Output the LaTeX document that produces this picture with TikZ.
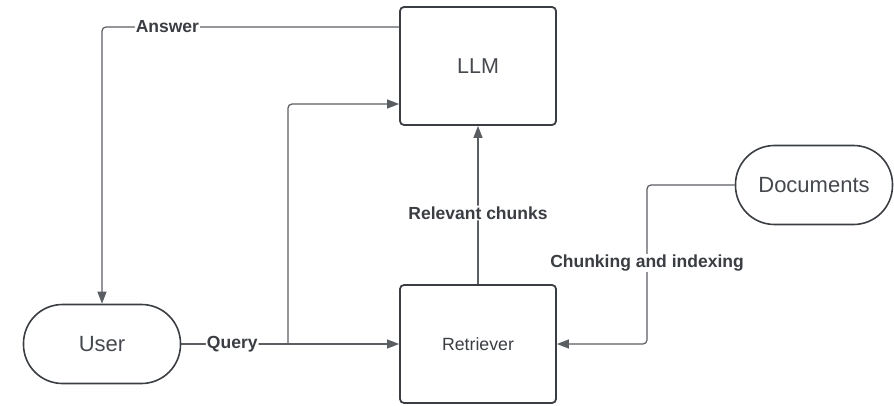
\documentclass[tikz,border=0pt]{standalone}
\usepackage{fontspec}
\setmainfont{Liberation Sans}
\usetikzlibrary{arrows.meta}
\definecolor{ink}{HTML}{3A3D42}
\definecolor{label}{HTML}{45484D}
\definecolor{wire}{HTML}{5A5D62}
\begin{document}
\begin{tikzpicture}[x=1pt,y=-1pt,
  box/.style={draw=ink,line width=1.8pt,rounded corners=4pt,minimum width=156pt,minimum height=118pt,inner sep=0pt,text=label},
  pill/.style={draw=ink,line width=1.6pt,rounded corners=39pt,minimum width=157pt,minimum height=79pt,inner sep=0pt,text=label,font=\fontsize{22}{26}\selectfont},
  wirestyle/.style={draw=wire,line width=1.2pt,rounded corners=4pt,-{Triangle[length=12pt,width=9pt]}},
  tag/.style={fill=white,inner sep=1pt,text=ink,font=\bfseries\fontsize{17.5}{20}\selectfont}]
\useasboundingbox (0,0) rectangle (894,406);

% components
\node[box,font=\fontsize{21.5}{26}\selectfont] (llm) at (478,66) {LLM};
\node[box,font=\fontsize{17.7}{21}\selectfont,text=ink] (ret) at (478,344) {Retriever};
\node[pill] (user) at (102,344) {User};
\node[pill] (docs) at (814,185) {Documents};

% branch point of the query wire
\coordinate (qsplit) at (288,344);

% answer back to the user
\draw[wirestyle] (llm.west |- 0,27) -| (user.north)
  node[tag,pos=0.39] {Answer};

% query to retriever and LLM
\draw[wirestyle] (user.east) -- (ret.west)
  node[tag,pos=0.234] {Query};
\draw[wirestyle] (qsplit) |- (llm.west |- 0,104);

% retrieved context to the LLM
\draw[wirestyle] (ret.north) -- (llm.south)
  node[tag,midway,yshift=-8pt] {Relevant chunks};

% document ingestion
\draw[wirestyle] (docs.west) -| (647,344) -- (ret.east);
\node[tag] (chunk) at (647,263) {Chunking and indexing};
\end{tikzpicture}
\end{document}
